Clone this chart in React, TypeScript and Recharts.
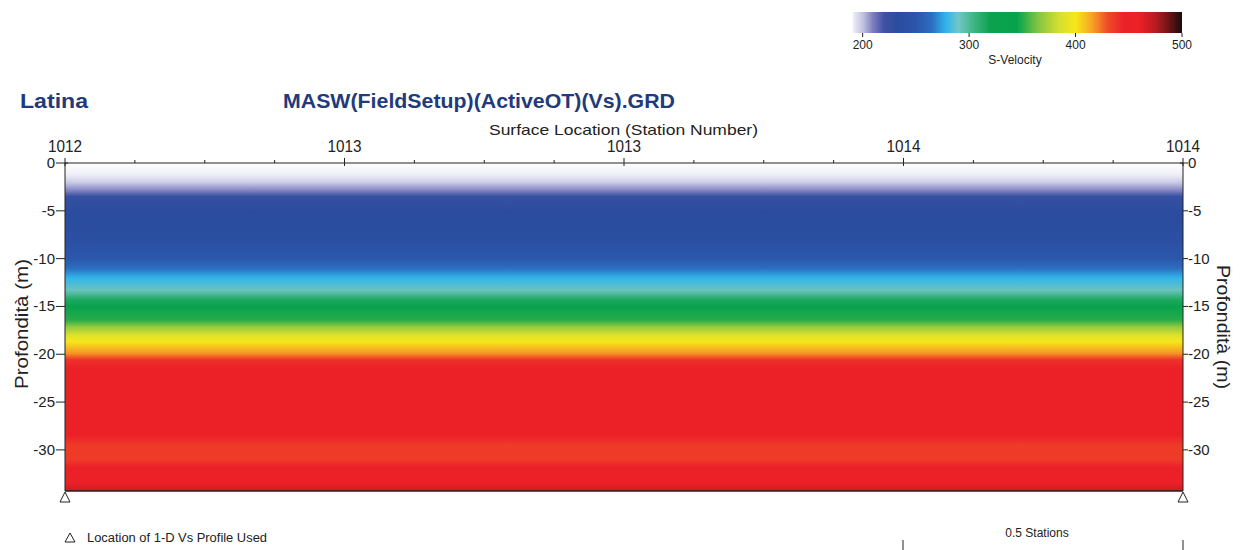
import React from "react";
import { ComposedChart, XAxis, YAxis, ReferenceArea, ReferenceLine, Scatter } from "recharts";

// 1-D Vs profile (depth in m, S-velocity in m/s)
const depths = [0, 1.2, 2.0, 2.8, 3.5, 5, 8, 10, 11, 12, 13.3, 14.3, 15, 16.4, 17.2, 18.0, 18.7, 19.9, 20.6, 21.5, 25, 28.5, 29.5, 31, 31.8, 33.5, 34.3];
const velocities = [185, 190, 198, 208, 225, 232, 238, 252, 263, 278, 292, 315, 335, 350, 370, 388, 400, 418, 440, 452, 455, 452, 436, 436, 448, 455, 470];

// colour scale of the legend bar
const scaleValues = [185, 192, 200, 210, 220, 232, 250, 265, 278, 290, 305, 320, 345, 365, 385, 400, 415, 430, 445, 460, 475, 488, 500];
const scaleColors = ["#ffffff", "#e8e8f4", "#c4c4e2", "#7c7cbf", "#3f52a4", "#2b4c9e", "#2b55aa", "#2c6fc2", "#30b4ea", "#72c5c8", "#3db580", "#0ca14e", "#06a34c", "#84c543", "#d6e02e", "#f6e71a", "#f7a624", "#ef4b28", "#ec2229", "#ec1f26", "#b81c22", "#6a1414", "#1a0c0c"];
const scaleTicks = [200, 300, 400, 500];
const scaleMin = 190;
const scaleMax = 500;

const stationMin = 1012;
const stationMax = 1014;
const stationTicks = [1012, 1012.125, 1012.25, 1012.375, 1012.5, 1012.625, 1012.75, 1012.875, 1013, 1013.125, 1013.25, 1013.375, 1013.5, 1013.625, 1013.75, 1013.875, 1014];
const depthTicks = [0, -5, -10, -15, -20, -25, -30];
const profileStations = [1012, 1014];

const maxDepth = depths[depths.length - 1];
const font = "'Liberation Sans', Arial, sans-serif";
const ink = "#222";

function hexToRgb(h: string) {
  const n = parseInt(h.slice(1), 16);
  return [(n >> 16) & 255, (n >> 8) & 255, n & 255];
}

function colorOf(v: number): string {
  if (v <= scaleValues[0]) return scaleColors[0];
  for (let i = 1; i < scaleValues.length; i++) {
    if (v <= scaleValues[i]) {
      const t = (v - scaleValues[i - 1]) / (scaleValues[i] - scaleValues[i - 1]);
      const a = hexToRgb(scaleColors[i - 1]);
      const b = hexToRgb(scaleColors[i]);
      const c = a.map((x, k) => Math.round(x + (b[k] - x) * t));
      return `rgb(${c[0]},${c[1]},${c[2]})`;
    }
  }
  return scaleColors[scaleColors.length - 1];
}

const profilePoints = profileStations.map((s) => ({ x: s, y: -maxDepth }));
const scaleData = scaleValues.map((v) => ({ v, c: 0.5 }));

const TopTick = (props: any) => {
  const { x, y, payload } = props;
  const v = payload.value;
  const major = Math.abs(v * 2 - Math.round(v * 2)) < 1e-6;
  return (
    <g>
      <line x1={x} x2={x} y1={y - (major ? 5 : 3)} y2={y + (major ? 3 : 0)} stroke={ink} />
      {major && (
        <text x={x} y={y - 11} textAnchor="middle" fontSize={17} fontFamily={font} fill={ink} textLength={34} lengthAdjust="spacingAndGlyphs">
          {Math.round(v)}
        </text>
      )}
    </g>
  );
};

const LeftTick = (props: any) => {
  const { x, y, payload } = props;
  return (
    <g>
      <line x1={x - 9} x2={x + (payload.value === 0 ? 3 : 0)} y1={y} y2={y} stroke={ink} />
      <text x={x - 10} y={y} dy={5} textAnchor="end" fontSize={15} fontFamily={font} fill={ink}>
        {payload.value}
      </text>
    </g>
  );
};

const RightTick = (props: any) => {
  const { x, y, payload } = props;
  return (
    <g>
      <line x1={x - (payload.value === 0 ? 3 : 0)} x2={x + 5} y1={y} y2={y} stroke={ink} />
      <text x={x + 5} y={y} dy={5} textAnchor="start" fontSize={15} fontFamily={font} fill={ink}>
        {payload.value}
      </text>
    </g>
  );
};

const Triangle = (props: any) => {
  const { cx, cy } = props;
  return <path d={`M${cx},${cy + 1} L${cx - 5},${cy + 11} L${cx + 5},${cy + 11} Z`} fill="none" stroke={ink} />;
};

export default function App() {
  return (
    <div style={{ position: "absolute", left: 0, top: 0, width: 1245, height: 550, background: "#fff" }}>
      <ComposedChart width={1245} height={550} data={profilePoints} margin={{ top: 133, right: 17, bottom: 59, left: 20 }}>
        <defs>
          <linearGradient id="vsGrad" x1="0" y1="0" x2="0" y2="1">
            {depths.map((d, i) => (
              <stop key={i} offset={d / maxDepth} stopColor={colorOf(velocities[i])} />
            ))}
          </linearGradient>
        </defs>
        <XAxis
          xAxisId="st"
          dataKey="x"
          type="number"
          orientation="top"
          domain={[stationMin, stationMax]}
          ticks={stationTicks}
          interval={0}
          height={30}
          tickSize={0}
          tickMargin={0}
          tickLine={false}
          tick={<TopTick />}
          axisLine={{ stroke: ink }}
        />
        <YAxis
          yAxisId="left"
          dataKey="y"
          type="number"
          domain={[-maxDepth, 0]}
          ticks={depthTicks}
          interval={0}
          width={45}
          tickSize={0}
          tickMargin={0}
          tickLine={false}
          tick={<LeftTick />}
          axisLine={{ stroke: ink }}
        />
        <YAxis
          yAxisId="right"
          dataKey="y"
          orientation="right"
          type="number"
          domain={[-maxDepth, 0]}
          allowDataOverflow
          ticks={depthTicks}
          interval={0}
          width={45}
          tickSize={0}
          tickMargin={0}
          tickLine={false}
          tick={<RightTick />}
          axisLine={{ stroke: ink }}
        />
        <ReferenceArea
          xAxisId="st"
          yAxisId="left"
          x1={stationMin}
          x2={stationMax}
          y1={-maxDepth}
          y2={0}
          fill="url(#vsGrad)"
          fillOpacity={1}
          stroke="none"
        />
        <ReferenceLine xAxisId="st" yAxisId="left" y={-maxDepth} stroke={ink} strokeWidth={1.5} />
        <Scatter
          xAxisId="st"
          yAxisId="left"
          data={profilePoints}
          dataKey="y"
          shape={<Triangle />}
          isAnimationActive={false}
        />
      </ComposedChart>

      {/* colour legend */}
      <div style={{ position: "absolute", left: 840, top: 0 }}>
        <ComposedChart width={360} height={60} data={scaleData} margin={{ top: 12, right: 18, bottom: 7, left: 12 }}>
          <defs>
            <linearGradient id="cbGrad" x1="0" y1="0" x2="1" y2="0">
              {scaleValues.map((v, i) => (
                <stop key={i} offset={Math.max(0, (v - scaleMin) / (scaleMax - scaleMin))} stopColor={scaleColors[i]} />
              ))}
            </linearGradient>
          </defs>
          <XAxis
            xAxisId="v"
            dataKey="v"
            type="number"
            domain={[scaleMin, scaleMax]}
            allowDataOverflow
            ticks={scaleTicks}
            interval={0}
            height={20}
            tickSize={4}
            tickMargin={3}
            axisLine={false}
            tickLine={{ stroke: ink }}
            tick={{ fontSize: 12, fontFamily: font, fill: ink }}
          />
          <YAxis yAxisId="c" dataKey="c" hide domain={[0, 1]} allowDataOverflow type="number" />
          <ReferenceArea xAxisId="v" yAxisId="c" x1={scaleMin} x2={scaleMax} y1={0} y2={1} fill="url(#cbGrad)" fillOpacity={1} stroke="none" />
        </ComposedChart>
      </div>

      <svg width={1245} height={550} style={{ position: "absolute", left: 0, top: 0, pointerEvents: "none" }}>
        <text x={1015} y={64} textAnchor="middle" fontSize={12} fontFamily={font} fill={ink}>S-Velocity</text>
        <text x={20} y={108} fontSize={20} fontWeight="bold" fontFamily={font} fill="#1f3b7b" textLength={68} lengthAdjust="spacingAndGlyphs">Latina</text>
        <text x={283} y={108} fontSize={21} fontWeight="bold" fontFamily={font} fill="#1f3b7b" textLength={392} lengthAdjust="spacingAndGlyphs">MASW(FieldSetup)(ActiveOT)(Vs).GRD</text>
        <text x={489} y={135} fontSize={15} fontFamily={font} fill={ink} textLength={269} lengthAdjust="spacingAndGlyphs">Surface Location (Station Number)</text>
        <text x={22} y={324} transform="rotate(-90 22 324)" dy={6} textAnchor="middle" fontSize={18} fontFamily={font} fill={ink} textLength={130} lengthAdjust="spacingAndGlyphs">Profondità (m)</text>
        <text x={1223} y={327} transform="rotate(90 1223 327)" dy={6} textAnchor="middle" fontSize={18} fontFamily={font} fill={ink} textLength={124} lengthAdjust="spacingAndGlyphs">Profondità (m)</text>
        <path d="M70,533 L65,542 L75,542 Z" fill="none" stroke={ink} />
        <text x={87} y={542} fontSize={12} fontFamily={font} fill={ink} textLength={180} lengthAdjust="spacingAndGlyphs">Location of 1-D Vs Profile Used</text>
        <text x={1037} y={537} textAnchor="middle" fontSize={12} fontFamily={font} fill={ink}>0.5 Stations</text>
        <line x1={903} x2={903} y1={540} y2={550} stroke={ink} />
        <line x1={1183} x2={1183} y1={540} y2={550} stroke={ink} />
      </svg>
    </div>
  );
}
